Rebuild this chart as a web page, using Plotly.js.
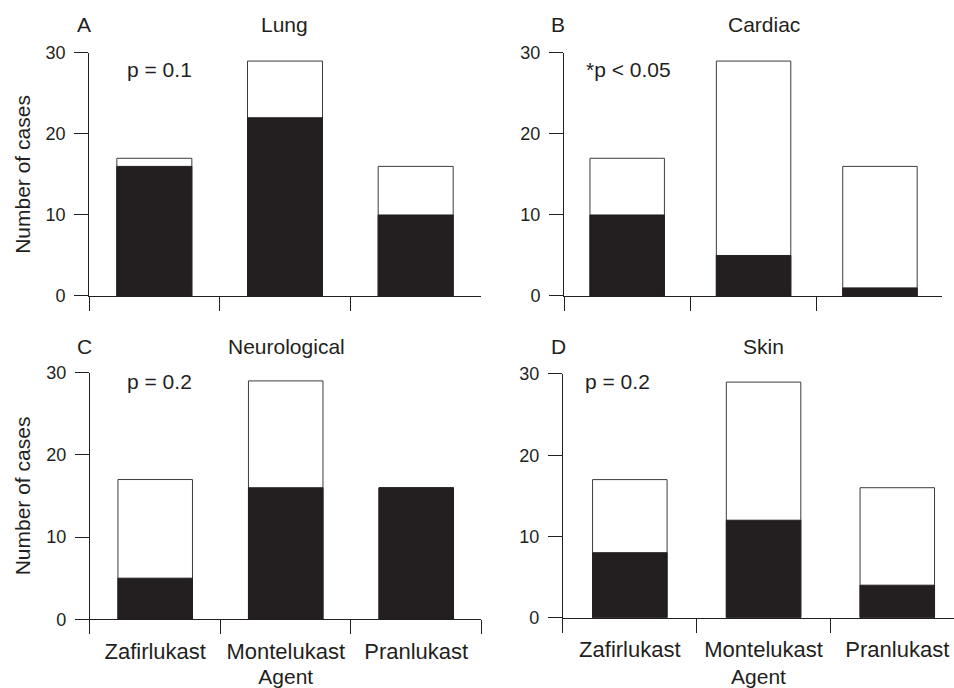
<!DOCTYPE html>
<html>
<head>
<meta charset="utf-8">
<script src="https://cdn.plot.ly/plotly-3.0.1.min.js"></script>
<style>html,body{margin:0;padding:0;background:#fff;}#chart{width:954px;height:688px;}</style>
</head>
<body>
<div id="chart"></div>
<script>
// ---- data ----
const agents = ['Zafirlukast', 'Montelukast', 'Pranlukast'];
const lungTotal = [17, 29, 16];
const lungBlack = [16, 22, 10];
const cardiacTotal = [17, 29, 16];
const cardiacBlack = [10, 5, 1];
const neuroTotal = [17, 29, 16];
const neuroBlack = [5, 16, 16];
const skinTotal = [17, 29, 16];
const skinBlack = [8, 12, 4];
const panelTitles = ['Lung', 'Cardiac', 'Neurological', 'Skin'];
const panelLetters = ['A', 'B', 'C', 'D'];
const pLabels = ['p = 0.1', '*p < 0.05', 'p = 0.2', 'p = 0.2'];
const yTicks = [0, 10, 20, 30];

const INK = '#231f20';
const EDGE = '#3c3c3c';
const FONT = 'Liberation Sans, Arial, Helvetica, sans-serif';

const panels = [
  {total: lungTotal, black: lungBlack, xa: 'x', ya: 'y', w: 0.574},
  {total: cardiacTotal, black: cardiacBlack, xa: 'x2', ya: 'y2', w: 0.589},
  {total: neuroTotal, black: neuroBlack, xa: 'x3', ya: 'y3', w: 0.571},
  {total: skinTotal, black: skinBlack, xa: 'x4', ya: 'y4', w: 0.557}
];

const traces = [];
panels.forEach(p => {
  traces.push({
    type: 'bar', x: agents, y: p.total, xaxis: p.xa, yaxis: p.ya, width: p.w,
    marker: {color: '#ffffff', line: {color: EDGE, width: 1}},
    showlegend: false, hoverinfo: 'x+y'
  });
  traces.push({
    type: 'bar', x: agents, y: p.black, xaxis: p.xa, yaxis: p.ya, width: p.w,
    marker: {color: INK, line: {color: INK, width: 1}},
    showlegend: false, hoverinfo: 'x+y'
  });
});

function xAxis(domain, range, labels, anchor, title) {
  const ax = {
    domain: domain, range: range, type: 'category', anchor: anchor,
    tickson: 'boundaries', ticks: 'outside', ticklen: 14, tickwidth: 1, tickcolor: INK,
    showline: true, linecolor: INK, linewidth: 1, showgrid: false, zeroline: false,
    showticklabels: labels, tickfont: {family: FONT, size: 22, color: INK},
    ticklabelstandoff: 12, fixedrange: true
  };
  if (title) ax.title = {text: title, font: {family: FONT, size: 21, color: INK}, standoff: 10};
  return ax;
}
function yAxis(domain, anchor, title) {
  const ax = {
    domain: domain, range: [0, 30], anchor: anchor,
    tickmode: 'array', tickvals: yTicks, ticktext: yTicks.map(String),
    ticks: 'outside', ticklen: 14, tickwidth: 1, tickcolor: INK,
    showline: true, linecolor: INK, linewidth: 1, showgrid: false, zeroline: false,
    tickfont: {family: FONT, size: 18, color: INK}, ticklabelstandoff: 5, fixedrange: true
  };
  if (title) ax.title = {text: title, font: {family: FONT, size: 21, color: INK}, standoff: 9};
  return ax;
}

const topY = [0.5698, 0.9230];
const annPos = [
  {lx: 0.0786, ly: 0.9637, tx: 0.2987, px: 0.131, py: 0.8983},
  {lx: 0.5752, ly: 0.9637, tx: 0.8005, px: 0.6119, py: 0.8983},
  {lx: 0.0786, ly: 0.4959, tx: 0.3005, px: 0.131, py: 0.4462},
  {lx: 0.5752, ly: 0.4959, tx: 0.8005, px: 0.6111, py: 0.4462}
];
const annotations = [];
annPos.forEach((a, i) => {
  const f = {family: FONT, size: 21, color: INK};
  annotations.push({xref: 'paper', yref: 'paper', x: a.lx, y: a.ly, xanchor: 'left', yanchor: 'middle', text: panelLetters[i], showarrow: false, font: f});
  annotations.push({xref: 'paper', yref: 'paper', x: a.tx, y: a.ly, xanchor: 'center', yanchor: 'middle', text: panelTitles[i], showarrow: false, font: f});
  annotations.push({xref: 'paper', yref: 'paper', x: a.px, y: a.py, xanchor: 'left', yanchor: 'middle', text: pLabels[i], showarrow: false, font: f});
});

const layout = {
  width: 954, height: 688,
  margin: {l: 0, r: 0, t: 0, b: 0},
  paper_bgcolor: '#ffffff', plot_bgcolor: 'rgba(0,0,0,0)',
  barmode: 'overlay', showlegend: false,
  font: {family: FONT, color: INK},
  xaxis: xAxis([0.0933, 0.5042], [-0.5, 2.5], false, 'y'),
  yaxis: yAxis(topY, 'x', 'Number of cases'),
  xaxis2: xAxis([0.5912, 0.9873], [-0.5, 2.49], false, 'y2'),
  yaxis2: yAxis(topY, 'x2'),
  xaxis3: xAxis([0.0943, 0.5047], [-0.5, 2.5], true, 'y3', 'Agent'),
  yaxis3: yAxis([0.0999, 0.4583], 'x3', 'Number of cases'),
  xaxis4: xAxis([0.5901, 1.0], [-0.5, 2.424], true, 'y4', 'Agent'),
  yaxis4: yAxis([0.1022, 0.4564], 'x4'),
  annotations: annotations
};

Plotly.newPlot('chart', traces, layout, {staticPlot: true, displayModeBar: false});
</script>
</body>
</html>
